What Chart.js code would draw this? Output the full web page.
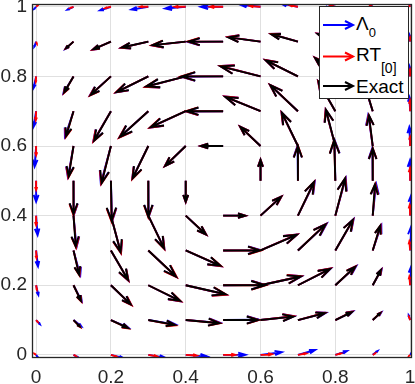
<!DOCTYPE html>
<html>
<head>
<meta charset="utf-8">
<script src="https://cdn.jsdelivr.net/npm/chart.js@4.4.1/dist/chart.umd.min.js"></script>
<style>
  html, body { margin: 0; padding: 0; background: #fff; }
  #wrap { position: relative; width: 415px; height: 384px; }
  #legend { position: absolute; left: 0; top: 0; pointer-events: none; }
  #legend text { font-family: "Liberation Sans", Arial, sans-serif; fill: #000; }
</style>
</head>
<body>
<div id="wrap">
  <canvas id="quiverChart" width="415" height="384"></canvas>
  <svg id="legend" width="415" height="384">
    <rect x="319.5" y="6.5" width="89" height="92" fill="#fff" stroke="#262626" stroke-width="1"/>
    <g stroke="#0000ff" stroke-width="2" fill="none">
      <line x1="323" y1="25" x2="353" y2="25"/>
      <polyline points="345,21 353,25 345,29"/>
    </g>
    <g stroke="#ff0000" stroke-width="2" fill="none">
      <line x1="323" y1="56.5" x2="353" y2="56.5"/>
      <polyline points="345,52.5 353,56.5 345,60.5"/>
    </g>
    <g stroke="#000000" stroke-width="2" fill="none">
      <line x1="323" y1="86" x2="353" y2="86"/>
      <polyline points="345,82 353,86 345,90"/>
    </g>
    <text x="356" y="30" font-size="19">Λ<tspan font-size="13" dy="7">0</tspan></text>
    <text x="356" y="61" font-size="19">RT<tspan font-size="14" dy="12">[0]</tspan></text>
    <text x="356" y="93" font-size="19">Exact</text>
  </svg>
</div>
<script>
// grid positions
const xs = [0, 0.1, 0.2, 0.3, 0.4, 0.5, 0.6, 0.7, 0.8, 0.9, 1];
const ys = [0, 0.1, 0.2, 0.3, 0.4, 0.5, 0.6, 0.7, 0.8, 0.9, 1];
const tickValues = [0, 0.2, 0.4, 0.6, 0.8, 1];
const tickLabels = ['0', '0.2', '0.4', '0.6', '0.8', '1'];

// rows go bottom (y=0) to top (y=1), columns left (x=0) to right (x=1)
const uExact = [
  [0, 0, 0, 0, 0, 0, 0, 0, 0, 0, 0],
  [0, .017, .046, .071, .090, .094, .088, .072, .044, .020, 0],
  [0, .020, .053, .085, .107, .112, .108, .086, .053, .022, 0],
  [0, .015, .046, .074, .093, .099, .097, .074, .047, .020, 0],
  [0, .006, .026, .042, .054, .059, .055, .043, .026, .006, 0],
  [0, 0, .002, 0, 0, 0, 0, 0, -.003, 0, 0],
  [0, -.013, -.025, -.042, -.055, -.059, -.054, -.043, -.025, -.010, 0],
  [0, -.020, -.045, -.076, -.094, -.098, -.094, -.074, -.045, -.020, 0],
  [0, -.025, -.054, -.085, -.106, -.111, -.107, -.086, -.054, -.025, 0],
  [0, -.020, -.047, -.071, -.089, -.093, -.086, -.071, -.047, -.020, 0],
  [0, 0, 0, 0, 0, 0, 0, 0, 0, 0, 0]
];
const vExact = [
  [0, 0, 0, 0, 0, 0, 0, 0, 0, 0, 0],
  [0, -.019, -.023, -.014, -.009, 0, .010, .020, .023, .020, 0],
  [0, -.045, -.055, -.045, -.026, 0, .025, .047, .053, .044, 0],
  [0, -.070, -.085, -.075, -.044, 0, .045, .075, .088, .071, 0],
  [0, -.089, -.105, -.094, -.054, 0, .054, .097, .107, .090, 0],
  [0, -.096, -.115, -.103, -.060, 0, .060, .100, .117, .093, 0],
  [0, -.088, -.107, -.093, -.057, 0, .055, .096, .104, .088, 0],
  [0, -.072, -.085, -.074, -.046, 0, .041, .075, .085, .072, 0],
  [0, -.046, -.053, -.045, -.029, 0, .029, .046, .053, .046, 0],
  [0, -.019, -.022, -.017, -.010, 0, .012, .021, .022, .019, 0],
  [0, 0, 0, 0, 0, 0, 0, 0, 0, 0, 0]
];

const uLambda = [
  [.005, .013, .033, .045, .058, .060, .057, .046, .031, .013, .004],
  [.010, .021, .047, .073, .092, .096, .090, .075, .047, .023, -.004],
  [.006, .022, .054, .086, .108, .113, .110, .088, .056, .024, .003],
  [.005, .018, .047, .075, .094, .100, .098, .077, .049, .023, .003],
  [.004, .008, .027, .043, .055, .060, .056, .045, .028, .009, .003],
  [0, .001, .003, .001, 0, 0, 0, -.001, -.002, -.001, 0],
  [-.004, -.015, -.027, -.043, -.056, -.060, -.055, -.044, -.026, -.012, -.002],
  [-.007, -.023, -.047, -.077, -.095, -.099, -.095, -.075, -.046, -.022, -.002],
  [-.007, -.027, -.056, -.086, -.107, -.112, -.108, -.087, -.055, -.027, -.002],
  [-.005, -.022, -.049, -.073, -.090, -.094, -.087, -.072, -.048, -.022, -.002],
  [-.005, -.016, -.029, -.045, -.055, -.060, -.055, -.045, -.030, -.015, -.004]
];
const vLambda = [
  [-.008, -.008, -.009, -.008, -.005, 0, .008, .014, .011, .011, .006],
  [-.012, -.018, -.022, -.013, -.008, .001, .011, .021, .025, .022, .014],
  [-.028, -.046, -.056, -.046, -.027, .001, .026, .048, .055, .046, .054],
  [-.046, -.072, -.087, -.076, -.045, .001, .046, .077, .090, .073, .069],
  [-.056, -.091, -.107, -.095, -.055, 0, .055, .098, .109, .092, .059],
  [-.060, -.098, -.117, -.104, -.061, 0, .061, .101, .118, .095, .060],
  [-.059, -.090, -.108, -.094, -.058, 0, .056, .097, .105, .090, .055],
  [-.045, -.074, -.086, -.075, -.047, -.001, .042, .076, .086, .074, .041],
  [-.034, -.048, -.054, -.046, -.030, -.001, .030, .047, .054, .048, .030],
  [-.015, -.021, -.023, -.018, -.011, -.001, .013, .022, .023, .021, .020],
  [-.006, -.008, -.010, -.008, -.005, 0, .006, .009, .012, .012, .010]
];

const uRT = [
  [-.004, .006, .015, .022, .029, .032, .030, .022, .015, .006, -.003],
  [.004, .018, .047, .073, .092, .096, .089, .073, .045, .021, -.003],
  [.002, .021, .055, .087, .109, .114, .109, .087, .054, .023, -.002],
  [.001, .016, .047, .076, .095, .101, .098, .075, .048, .021, -.002],
  [0, .007, .027, .043, .055, .060, .056, .044, .027, .007, -.001],
  [0, 0, .002, 0, 0, 0, 0, 0, -.003, 0, 0],
  [0, -.014, -.026, -.043, -.056, -.060, -.055, -.044, -.026, -.011, 0],
  [-.001, -.021, -.047, -.078, -.096, -.100, -.095, -.075, -.046, -.021, 0],
  [-.001, -.026, -.056, -.087, -.108, -.113, -.108, -.087, -.055, -.026, 0],
  [.002, -.021, -.049, -.073, -.091, -.095, -.087, -.072, -.048, -.021, 0],
  [.006, -.008, -.015, -.022, -.029, -.035, -.028, -.021, -.015, -.008, -.002]
];
const vRT = [
  [.003, -.003, -.005, -.004, -.002, 0, .002, .004, .004, .004, -.003],
  [-.005, -.020, -.024, -.015, -.009, 0, .011, .021, .024, .021, .009],
  [-.013, -.047, -.057, -.046, -.027, 0, .026, .048, .054, .045, .025],
  [-.022, -.072, -.087, -.077, -.045, 0, .046, .076, .089, .072, .026],
  [-.027, -.092, -.108, -.096, -.055, 0, .055, .098, .108, .091, .031],
  [-.026, -.099, -.118, -.105, -.061, 0, .061, .101, .118, .094, .037],
  [-.026, -.091, -.109, -.095, -.058, 0, .056, .097, .105, .089, .027],
  [-.026, -.075, -.087, -.076, -.047, 0, .042, .076, .086, .073, .032],
  [-.016, -.048, -.055, -.046, -.030, 0, .030, .047, .054, .047, .020],
  [-.006, -.020, -.023, -.018, -.011, 0, .013, .022, .023, .020, .012],
  [.006, -.003, -.004, 0, 0, 0, .002, .004, .005, .005, .005]
];

function buildPoints(U, V) {
  const pts = [];
  ys.forEach((yv, j) => {
    xs.forEach((xv, i) => {
      if (U[j][i] === 0 && V[j][i] === 0) return;
      pts.push({ x: xv, y: yv, u: U[j][i], v: V[j][i] });
    });
  });
  return pts;
}

// draws each point as an arrow (tail at the point), MATLAB quiver style head
const quiverPlugin = {
  id: 'quiver',
  afterDatasetsDraw(chart) {
    const { ctx, chartArea, scales: { x, y } } = chart;
    const alpha = 0.33, beta = 0.33;
    ctx.save();
    ctx.beginPath();
    ctx.rect(chartArea.left, chartArea.top, chartArea.right - chartArea.left, chartArea.bottom - chartArea.top);
    ctx.clip();
    ctx.lineCap = 'butt';
    ctx.lineJoin = 'miter';
    chart.data.datasets.forEach(ds => {
      ctx.strokeStyle = ds.borderColor;
      ctx.lineWidth = ds.borderWidth;
      ds.data.forEach(p => {
        const hx = p.x + p.u, hy = p.y + p.v;
        const ax = hx - alpha * (p.u + beta * p.v), ay = hy - alpha * (p.v - beta * p.u);
        const bx = hx - alpha * (p.u - beta * p.v), by = hy - alpha * (p.v + beta * p.u);
        ctx.beginPath();
        ctx.moveTo(x.getPixelForValue(p.x), y.getPixelForValue(p.y));
        ctx.lineTo(x.getPixelForValue(hx), y.getPixelForValue(hy));
        ctx.moveTo(x.getPixelForValue(ax), y.getPixelForValue(ay));
        ctx.lineTo(x.getPixelForValue(hx), y.getPixelForValue(hy));
        ctx.lineTo(x.getPixelForValue(bx), y.getPixelForValue(by));
        ctx.stroke();
      });
    });
    ctx.restore();
  }
};

// axes box
const boxPlugin = {
  id: 'box',
  afterDraw(chart) {
    const { ctx, chartArea: a } = chart;
    ctx.save();
    ctx.strokeStyle = '#262626';
    ctx.lineWidth = 1.3;
    ctx.strokeRect(a.left + 0.5, a.top + 0.5, a.right - a.left - 1, a.bottom - a.top - 1);
    ctx.restore();
  }
};

const setTicks = scale => { scale.ticks = tickValues.map(v => ({ value: v })); };
const tickFont = { family: '"Liberation Sans", Arial, sans-serif', size: 19 };

new Chart(document.getElementById('quiverChart').getContext('2d'), {
  type: 'scatter',
  data: {
    datasets: [
      { label: 'Λ0', data: buildPoints(uLambda, vLambda), borderColor: '#0000ff', borderWidth: 1.9, pointRadius: 0 },
      { label: 'RT[0]', data: buildPoints(uRT, vRT), borderColor: '#ff0000', borderWidth: 1.9, pointRadius: 0 },
      { label: 'Exact', data: buildPoints(uExact, vExact), borderColor: '#000000', borderWidth: 1.9, pointRadius: 0 }
    ]
  },
  options: {
    responsive: false,
    animation: false,
    layout: { padding: { top: 4, right: 3, left: 0, bottom: 0 } },
    plugins: { legend: { display: false }, tooltip: { enabled: false } },
    scales: {
      x: {
        type: 'linear', min: -0.011, max: 1.005,
        afterBuildTicks: setTicks,
        afterFit: s => { s.height = 26; s.paddingLeft = 0; s.paddingRight = 0; },
        grid: { color: '#e0e0e0', drawTicks: false },
        border: { display: false },
        ticks: { color: '#262626', font: tickFont, padding: 8, maxRotation: 0,
          callback: (v, i) => tickLabels[i] }
      },
      y: {
        type: 'linear', min: -0.009, max: 1.008,
        afterBuildTicks: setTicks,
        afterFit: s => { s.width = 32; s.paddingTop = 0; s.paddingBottom = 0; },
        grid: { color: '#e0e0e0', drawTicks: false },
        border: { display: false },
        ticks: { color: '#262626', font: tickFont, padding: 5,
          callback: (v, i) => tickLabels[i] }
      }
    }
  },
  plugins: [quiverPlugin, boxPlugin]
});
</script>
</body>
</html>
